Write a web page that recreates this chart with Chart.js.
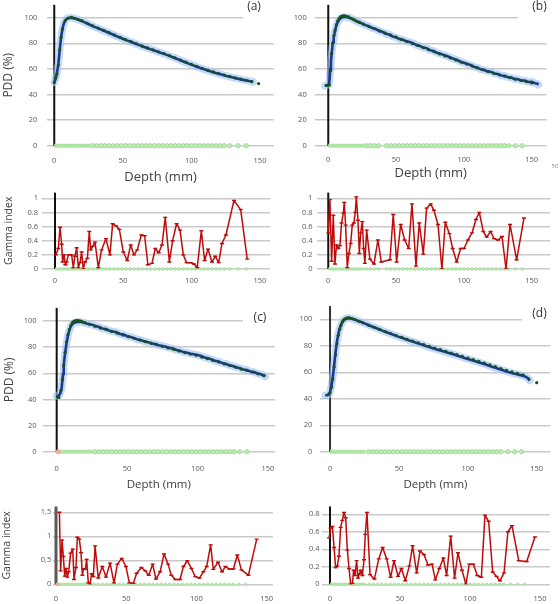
<!DOCTYPE html>
<html>
<head>
<meta charset="utf-8">
<script src="https://cdn.jsdelivr.net/npm/chart.js@4.4.0/dist/chart.umd.min.js"></script>
<style>
html, body { margin: 0; padding: 0; background: #fff; }
#fig { position: relative; width: 560px; height: 604px; overflow: hidden; }
.panel { position: absolute; }
</style>
</head>
<body>
<div id="fig"></div>
<script>
// ---- panel (a) ----
const aDepth = [0,1,2,3,4,5,6,7,8,9,10,12,14,16,18,20,23,26,29,32,35,38,41,44,47,50,53,56,59,62,65,68,71,74,77,80,83,86,89,92,95,98,101,104,107,110,113,116,119,122,125,128,131,134,137,140,143,145];
const aCalc = [49.5,52,57,64,75,85,91.5,95.5,97.8,99,99.7,100,99.6,98.9,98.2,97.4,95.9,94.4,93,91.6,90.3,89,87.6,86.2,84.8,83.5,82.2,81,79.8,78.5,77.3,76.1,75,73.9,72.8,71.7,70.5,69.3,68,66.7,65.4,64.1,62.9,61.7,60.5,59.4,58.4,57.4,56.4,55.5,54.6,53.8,53,52.3,51.6,50.9,50.3,49.8];
const aMeasDepth = [0,1,2,3,4,5,6,8,10,12.5,15,17.5,20,24,28,32,36,40,44,48,52,56,60,64,68,72,76,80,84,88,92,96,100,104,108,112,116,120,124,128,132,136,140,144,149];
const aMeas = [49.3,53,56,63,75,84.5,91,97.5,99.5,100.2,99.5,98.5,97.6,95.6,93.6,91.8,90,88.2,86.4,84.6,82.8,81.2,79.6,77.9,76.3,74.8,73.3,71.9,70.3,68.6,66.9,65.2,63.5,61.9,60.3,58.9,57.6,56.3,55.1,54,52.9,51.9,51,50.1,48.5];
const aPassBand = [0, 26];
const aPass = [28,31,34,37,40,43,46,49,52,55,58,61,64,67,70,73,76,79,82,85,88,91,94,97,100,103,106,109,112,115,118,121,124,128,134,140];
const aGammaDepth = [0.7,2.4,3.7,4.9,5.6,6.6,7.6,8.5,9.8,12.2,13.4,14.6,15.9,17.1,18.3,19.5,20.7,22,23.7,25.1,26.1,27.6,29.3,31.7,34.1,37.3,40.2,42.2,44.6,47.1,50,52.9,55.4,57.8,60.2,63.2,65.6,68,71,73.4,75.9,78.3,80.7,83.7,86.1,89,91.5,93.9,96.3,99.3,101.7,104.1,107.1,109.5,112,114.9,117.3,119.8,122.2,125.1,131,135.9,140.7];
const aGamma = [0.2,0.29,0.59,0.35,0.1,0.2,0.06,0.1,0.2,0.2,0.02,0.18,0.3,0.02,0.09,0.24,0,0.1,0.15,0.53,0.27,0.32,0.38,0.02,0.27,0.43,0.2,0.64,0.61,0.56,0.24,0.12,0.34,0.2,0.27,0.48,0.47,0.06,0.08,0.29,0.23,0.34,0.73,0.1,0.4,0.64,0.55,0.2,0.09,0.09,0.07,0.02,0.54,0.12,0.28,0.1,0.18,0.09,0.36,0.48,0.97,0.84,0.14];

// ---- panel (b) ----
const bDepth = [-2.5,-1,0,0.5,1,1.5,2,2.5,3,3.5,4,5,6,7,8,9,10,12.5,15,17.5,20,22.5,25,27.5,30,32.5,35,37.5,40,42.5,45,47.5,50,52.5,55,57.5,60,62.5,65,67.5,70,72.5,75,77.5,80,82.5,85,87.5,90,92.5,95,97.5,100,102.5,105,107.5,110,112.5,115,117.5,120,122.5,125,127.5,130,132.5,135,137.5,140,142.5,145,147.5,150,152.5,154,155];
const bCalc = [46.8,47.2,47.5,48,52,60,66,71.5,77,81,84.5,90,94,96.6,98.3,99.4,100.1,100.6,100.1,99,97.6,96.3,95.4,94.1,93.2,91.8,91.1,89.6,88.9,87.4,86.9,85.3,84.6,83.2,82.7,81.6,80.9,80.1,78.6,77.9,76.6,76.1,74.6,74,72.6,71.8,70.9,70,68.9,67.8,66.9,65.6,64.8,63.7,63,61.6,60.9,59.6,59.1,58,57.6,56.4,56,54.8,54.6,53.4,53.2,52,51.9,50.8,50.9,49.7,49.9,48.8,48.6,47.6];
const bMeasDepth = [-1.5,0,0.8,1.7,2.5,3.3,4.2,5,6,7,8,9,10,11,12,13.5,15,17,19,21,23,26,30,34,38,42,46,50,54,58,62,66,70,74,78,82,86,90,94,98,102,106,110,114,118,122,126,130,134,138,142,146,150];
const bMeas = [47,47.3,47.6,58.5,72,80,86,90,94.5,97.5,99.5,100.5,101,101.3,101.3,101,100.6,99.5,98.4,97.3,96.4,94.8,93,91.3,89.6,87.9,86.3,84.7,83,81.3,79.7,78.3,76.6,75,73.4,71.7,70.1,68.5,66.9,65.3,63.9,62.3,60.7,59.3,57.9,56.6,55.4,54.2,53.1,52,51,50,49];
const bPassBand = [0, 26];
const bPass = [28,31,34,37,43,46,49,52,55,58,61,64,67,70,73,76,79,82,85,88,91,94,97,100,103,106,109,112,115,118,121,124,127,130,133,138,143];
const bGammaDepth = [0,1.2,2.5,3.7,4.9,6.1,7.4,8.6,9.8,11.1,11.8,12.8,14,15.2,16.5,17.7,18.9,19.9,20.7,21.9,22.9,23.9,25.1,26.1,27,28.3,30.7,33.7,36.6,39.1,45.5,47.9,50.4,53.4,56.3,59.3,61.7,64.7,67.1,70.1,72.5,75.5,77.9,80.9,83.8,86.3,89.3,91.7,94.7,97.6,100.1,103,106,108.9,111.4,114.3,116.8,119.7,122.2,125.2,128.1,131.1,134,138.9,144.3];
const bGamma = [0.51,0.98,0.11,0.76,0.07,0.34,0.29,0.33,0.65,0.79,0.94,0.62,0.02,0.22,0.36,0.62,0.65,0.8,1.02,0.69,0.22,0.51,0.67,0.29,0.08,0.55,0.14,0.07,0.41,0.1,0.13,0.77,0.1,0.63,0.41,0.29,0.92,0.04,0.65,0.21,0.86,0.92,0.83,0.63,0,0.66,0.5,0.29,0.1,0.29,0.29,0.41,0.51,0.7,0.8,0.53,0.45,0.53,0.43,0.41,0.46,0,0.63,0.13,0.72];

// ---- panel (c) ----
const cDepth = [0,1,2,3,3.5,4,4.5,5,5.5,6,7,8,9,10,11,12.5,15,17.5,20,22.5,25,27.5,30,32.5,35,37.5,40,42.5,45,47.5,50,52.5,55,57.5,60,62.5,65,67.5,70,72.5,75,77.5,80,82.5,85,87.5,90,92.5,95,97.5,100,102.5,105,107.5,110,112.5,115,117.5,120,122.5,125,127.5,130,132.5,135,137.5,140,142.5,145,147.5,148];
const cCalc = [42.6,42.8,43.5,46,48.5,54,59.5,65.5,71,75.5,83,89,93,95.8,97.5,98.7,99.4,99.2,98.5,97.7,97.2,96.2,95.4,94.2,93.8,92.5,91.9,91.4,90.1,89.6,88.3,87.8,86.9,85.8,85.3,84.3,83.8,82.7,82.3,81.4,80.9,80.2,79.4,78.9,77.8,77.3,76.2,75.7,75,74.5,73.9,73.2,72.1,71.4,70.6,69.5,69,67.8,67.3,66.2,65.6,64.6,63.9,62.9,62.5,61.4,60.9,59.8,59.2,58.1,57.4];
const cMeasDepth = [0.5,1.5,3,4,5,6,7,8,9,10,11,12,13,14,15,16,17,18,20,23,27,31,35,39,43,47,51,55,59,63,67,71,75,79,83,87,91,95,99,103,107,111,115,119,123,127,131,135,139,143,147];
const cMeas = [42,41.5,47,55,66,76,84,89.5,93.5,96.5,98.5,99.5,100,100.2,100.2,100.1,99.9,99.6,98.7,97.6,96,94.7,93.4,92,90.6,89.2,88,86.8,85.5,84.2,83,81.8,80.6,79.4,78.3,77,75.8,74.7,73.7,72.4,71.1,69.8,68.6,67.1,65.9,64.6,63.2,62.1,60.9,59.6,58.2];
const cPassBand = [2.4, 25];
const cFail = [1.2];
const cPass = [27,30,33,36,39,42,45,48,51,54,57,60,63,66,69,72,75,78,81,84,87,90,93,96,99,102,105,108,111,114,117,120,123,126,130,135];
const cGammaDepth = [2.4,3.3,4.3,5.2,6.2,7.1,8.1,9,10.4,11.9,12.8,14.2,15.2,16.6,17.8,18.8,19.5,20.9,21.8,23,24.2,25.4,26.6,27.8,30.1,33,35.6,38.5,41.3,43.7,46.8,49.8,52.2,55.1,57.4,60.8,63.6,66,68.8,71.2,74.1,76.9,79.8,82.1,85,88.3,90.7,93.5,96.4,99.2,102.1,104.9,107.3,110.1,112,115.4,118.2,120.6,123.4,126.3,129.1,132,137,142.9];
const cGamma = [1.5,0.28,0.92,0.58,0.17,0.33,0.15,0.26,0.65,0.73,0.1,0.35,0.98,0.94,0.66,0.19,0.32,0.31,0.52,0.03,0,0.22,0.16,0.8,0.13,0.37,0.15,0.44,0.03,0.42,0.54,0.37,0.03,0.02,0.23,0.35,0.28,0.19,0.42,0.11,0.26,0.63,0.42,0.19,0.1,0.1,0.37,0.49,0.33,0.16,0.13,0.26,0.37,0.82,0.31,0.46,0.26,0.37,0.32,0.32,0.61,0.3,0.19,0.94];

// ---- panel (d) ----
const dDepth = [-3.5,-2,-1,0,1,2,3,4,5,6,7,8,9,10,11,12.5,14,16,18,20,22.5,25,27.5,30,32.5,35,37.5,40,42.5,45,47.5,50,52.5,55,57.5,60,62.5,65,67.5,70,72.5,75,77.5,80,82.5,85,87.5,90,92.5,95,97.5,100,102.5,105,107.5,110,112.5,115,117.5,120,122.5,125,127.5,130,132.5,135,137.5,140,142.5,144,145];
const dCalc = [42.6,42.6,43,45,49.5,56,65.5,75,83,88.8,93,96,98.2,99.5,100.3,100.8,100.9,100.4,99.7,98.9,97.9,96.9,95.9,94.7,93.8,92.6,91.6,90.5,89.6,88.6,87.7,86.7,85.8,84.9,84,83.1,82.3,81.4,80.6,79.6,78.8,78,77.2,76.4,75.7,74.9,74.1,73.3,72.5,71.7,70.8,70,69.3,68.4,67.6,66.8,66,65.1,64.1,63.3,62.5,61.7,60.8,60,59.3,58.7,58,57.3,56.3,55,53.7];
const dMeasDepth = [-1,0,1,2,3,4,5,6,7,8,9,10,11,12,13,14,16,18,21,24,28,32,36,40,44,48,52,56,60,64,68,72,76,80,84,88,92,96,100,104,108,112,116,120,124,128,132,136,140,144,150];
const dMeas = [43.5,44.5,48.5,55,64,73,81.5,88,92.5,95.5,98,99.5,100.3,100.8,101,101,100.5,99.8,98.5,97.3,95.4,93.9,92.3,90.7,89.2,87.7,86.3,84.8,83.5,82.1,80.8,79.6,78.3,77.1,75.8,74.5,73.3,72,70.7,69.5,68.2,66.9,65.6,64.2,62.8,61.5,60.2,59.1,58,55.2,52.1];
const dPassBand = [0, 25.5];
const dPass = [28,31,34,37,40,43,46,49,52,55,58,61,64,67,70,73,76,79,82,85,88,91,94,97,100,103,106,109,112,115,118,121,124,129,134,139];
const dGammaDepth = [-0.7,0.5,1.7,2.9,4,5.2,6.4,7.6,8.8,10,11.2,12.4,13.6,14.8,16,16.9,17.9,19,20,21,21.9,23.1,24.3,25.2,26.4,28.6,31.7,34.8,37.6,40.5,43.3,45.7,48.6,51,53.8,56.7,59,61.9,64.3,67.1,70,72.9,75.2,78.1,81,83.3,86.2,89,91.4,94.3,97.1,99.5,102.4,105.2,108.1,110.7,113.3,116.2,119,121.4,124.3,127.1,130,134.8,140.5,146.4];
const dGamma = [0.53,0.64,0.66,0.42,0.19,0.21,0.32,0.65,0.73,0.82,0.76,0.39,0.18,0,0.01,0.16,0.1,0.27,0.07,0.12,0.16,0.1,0.28,0.57,0.82,0.11,0.06,0.29,0.42,0.29,0.08,0.27,0.09,0.18,0.04,0.21,0.44,0.13,0.38,0.34,0.22,0.23,0.05,0.18,0.3,0.1,0.55,0.07,0.36,0.16,0,0.23,0.23,0.1,0.08,0.79,0.72,0.14,0.09,0.04,0.13,0.6,0.67,0.27,0.26,0.54];

const FONT = "'Open Sans', 'DejaVu Sans', sans-serif";
Chart.defaults.font.family = FONT;

const fig = document.getElementById('fig');

function pts(xs, ys) { return xs.map((x, i) => ({ x, y: ys[i] })); }
function onZero(xs) { return xs.map(x => ({ x, y: 0 })); }

// vertical axis line drawn at depth 0, like the Excel crossing axis
function axisAtZero(color, width) {
    return {
        id: 'axisAtZero',
        beforeDatasetsDraw(chart) {
            const { ctx, chartArea } = chart;
            const x = chart.scales.x.getPixelForValue(0);
            ctx.save();
            ctx.strokeStyle = color;
            ctx.lineWidth = width;
            ctx.beginPath();
            ctx.moveTo(x, chartArea.top);
            ctx.lineTo(x, chartArea.bottom);
            ctx.stroke();
            ctx.restore();
        }
    };
}

// panel letters, with a white box under them as in the original
function panelLabels(items, box) {
    return {
        id: 'panelLabels',
        beforeDatasetsDraw(chart) {
            const ctx = chart.ctx;
            items.forEach(it => {
                ctx.save();
                if (it.mask) {
                    ctx.fillStyle = '#fff';
                    ctx.fillRect(it.mask[0] - box.l, it.mask[1] - box.t, it.mask[2] - it.mask[0], it.mask[3] - it.mask[1]);
                }
                ctx.font = it.size + 'px ' + FONT;
                ctx.fillStyle = it.color || '#333';
                ctx.textAlign = 'center';
                ctx.textBaseline = 'middle';
                ctx.fillText(it.text, it.x - box.l, it.y - box.t);
                ctx.restore();
            });
        }
    };
}

function noPad(s) {
    s.paddingTop = 0; s.paddingBottom = 0; s.paddingLeft = 0; s.paddingRight = 0;
}

function pddSets(depth, calc, mDepth, meas, band, pass, fail) {
    const sets = [
        { data: pts(depth, calc), showLine: true, borderColor: 'rgba(165,198,242,0.65)', borderWidth: 7.5,
          borderJoinStyle: 'round', borderCapStyle: 'round', pointRadius: 0, order: 5 },
        { data: onZero(band), showLine: true, borderColor: '#aee4a5', borderWidth: 4, pointRadius: 0, clip: false, order: 4 },
        { data: onZero(pass), pointRadius: 2.2, backgroundColor: '#bdecb5', borderColor: '#9ad891', borderWidth: 0.8, clip: false, order: 4 },
        { data: pts(depth, calc), showLine: true, borderColor: '#1b3890', borderWidth: 2.6, pointRadius: 0, order: 2 },
        { data: pts(mDepth, meas), pointRadius: 1.6, backgroundColor: '#17521a', borderColor: '#17521a', borderWidth: 0, order: 1 }
    ];
    if (fail) {
        sets.push({ data: onZero(fail), pointRadius: 2.4, pointStyle: 'rect', backgroundColor: '#f2a99f', borderColor: '#f2a99f', clip: false, order: 3 });
    }
    return sets;
}

function gammaSets(gx, gy, band, pass, fail) {
    const sets = [
        { data: pts(gx, gy), showLine: true, borderColor: '#bf0a0a', borderWidth: 1.5, pointStyle: 'line',
          pointRadius: 2, pointBorderWidth: 1.4, borderJoinStyle: 'round', order: 1 },
        { data: onZero(band), showLine: true, borderColor: '#aee4a5', borderWidth: 3, pointRadius: 0, clip: false, order: 3 },
        { data: onZero(pass), pointRadius: 1.4, backgroundColor: '#bdecb5', borderColor: '#9ad891', borderWidth: 0.6, clip: false, order: 3 }
    ];
    if (fail) {
        sets.push({ data: onZero(fail), pointRadius: 1.8, pointStyle: 'rect', backgroundColor: '#f2a99f', borderColor: '#f2a99f', clip: false, order: 2 });
    }
    return sets;
}

function makePanel(p) {
    const div = document.createElement('div');
    div.className = 'panel';
    div.style.left = p.box.l + 'px';
    div.style.top = p.box.t + 'px';
    div.style.width = (p.box.r - p.box.l) + 'px';
    div.style.height = (p.box.b - p.box.t) + 'px';
    const cv = document.createElement('canvas');
    div.appendChild(cv);
    fig.appendChild(div);

    const tickFont = { family: FONT, size: 7.5 };
    new Chart(cv, {
        type: 'scatter',
        data: { datasets: p.datasets },
        options: {
            responsive: true,
            maintainAspectRatio: false,
            animation: false,
            devicePixelRatio: 1,
            layout: { padding: { left: 0, bottom: 0, top: p.area.t - p.box.t, right: p.box.r - p.area.r } },
            plugins: { legend: { display: false }, tooltip: { enabled: false } },
            scales: {
                x: {
                    type: 'linear',
                    min: p.x[0],
                    max: p.x[1],
                    afterFit: s => { s.height = p.box.b - p.area.b; noPad(s); },
                    grid: { display: false, drawTicks: false },
                    border: { display: false },
                    ticks: { stepSize: 50, includeBounds: false, padding: p.xPad, font: tickFont, color: '#595959',
                             maxRotation: 0, autoSkip: false },
                    title: p.xTitle
                        ? { display: true, text: 'Depth (mm)', color: '#404040', font: { family: FONT, size: p.xTitle }, padding: { top: 0, bottom: 0 } }
                        : { display: false }
                },
                y: {
                    type: 'linear',
                    min: 0,
                    max: p.y[1],
                    afterFit: s => { s.width = p.area.l - p.box.l; noPad(s); },
                    grid: { color: '#c9c9c9', lineWidth: 1.4, drawTicks: false },
                    border: { display: false },
                    ticks: {
                        stepSize: p.y[2],
                        includeBounds: false,
                        padding: p.yPad,
                        font: tickFont,
                        color: '#595959',
                        callback: v => {
                            const s = String(+v.toFixed(2));
                            return p.comma ? s.replace('.', ',') : s;
                        }
                    },
                    title: p.yTitle
                        ? { display: true, text: p.yTitle[0], color: '#404040', font: { family: FONT, size: p.yTitle[1] }, padding: { top: p.yTitle[2], bottom: 0 } }
                        : { display: false }
                }
            }
        },
        plugins: [axisAtZero(p.axisColor || '#111', p.axisWidth || 2), panelLabels(p.labels || [], p.box)]
    });
}

const panels = [
    { // (a) PDD
        box: { l: 0, t: 0, r: 280, b: 185 }, area: { l: 47.4, t: 3.8, r: 273.7, b: 145.7 },
        x: [-5, 160], y: [0, 110, 20], yPad: 10, xPad: 11, xTitle: 13, yTitle: ['PDD (%)', 12, 1],
        labels: [{ text: '(a)', x: 254, y: 7, size: 12, mask: [243, 0, 277, 24] }],
        datasets: pddSets(aDepth, aCalc, aMeasDepth, aMeas, aPassBand, aPass)
    },
    { // (a) gamma
        box: { l: 0, t: 186, r: 280, b: 292 }, area: { l: 42, t: 192.6, r: 270.2, b: 269 },
        x: [-9.5, 157.5], y: [0, 1.08, 0.2], yPad: 4, xPad: 7, yTitle: ['Gamma index', 10.5, 2.5],
        datasets: gammaSets(aGammaDepth, aGamma, aPassBand, aPass)
    },
    { // (b) PDD
        box: { l: 282, t: 0, r: 560, b: 181 }, area: { l: 314.7, t: 3.8, r: 546.6, b: 145.7 },
        x: [-10, 161], y: [0, 110, 20], yPad: 8, xPad: 9.5, xTitle: 13,
        labels: [{ text: '(b)', x: 539.5, y: 7, size: 12, mask: [518, 0, 558, 24] },
                 { text: '50', x: 555, y: 166, size: 6, color: '#888' }],
        datasets: pddSets(bDepth, bCalc, bMeasDepth, bMeas, bPassBand, bPass)
    },
    { // (b) gamma
        box: { l: 282, t: 186, r: 560, b: 292 }, area: { l: 316.6, t: 192.6, r: 550, b: 269 },
        x: [-8.6, 163.5], y: [0, 1.08, 0.2], yPad: 4, xPad: 7,
        datasets: gammaSets(bGammaDepth, bGamma, bPassBand, bPass)
    },
    { // (c) PDD
        box: { l: 0, t: 292, r: 280, b: 492 }, area: { l: 42.6, t: 307.9, r: 275.4, b: 451.7 },
        x: [-10, 155], y: [0, 110, 20], yPad: 6, xPad: 12.5, xTitle: 11.5, yTitle: ['PDD (%)', 12, 2],
        labels: [{ text: '(c)', x: 260, y: 318, size: 12, mask: [243, 304, 278, 332] }],
        datasets: pddSets(cDepth, cCalc, cMeasDepth, cMeas, cPassBand, cPass, cFail)
    },
    { // (d) PDD
        box: { l: 282, t: 292, r: 560, b: 492 }, area: { l: 320.4, t: 306, r: 550.5, b: 451.7 },
        x: [-7, 160], y: [0, 110, 20], yPad: 8, xPad: 12.5, xTitle: 11.5, axisColor: '#333',
        labels: [{ text: '(d)', x: 539.5, y: 314, size: 12, mask: [522, 300, 558, 328] }],
        datasets: pddSets(dDepth, dCalc, dMeasDepth, dMeas, dPassBand, dPass)
    },
    { // (c) gamma
        box: { l: 0, t: 494, r: 280, b: 604 }, area: { l: 53.2, t: 506.5, r: 273, b: 584.3 },
        x: [-2, 154.5], y: [0, 1.62, 0.5], yPad: 2, xPad: 10, comma: true, yTitle: ['Gamma index', 10.5, 0.5],
        axisColor: '#595959', axisWidth: 3,
        datasets: gammaSets(cGammaDepth, cGamma, cPassBand, cPass, cFail)
    },
    { // (d) gamma
        box: { l: 282, t: 494, r: 560, b: 604 }, area: { l: 321.6, t: 506.4, r: 549.8, b: 584.3 },
        x: [-6, 157], y: [0, 0.89, 0.2], yPad: 2, xPad: 10,
        datasets: gammaSets(dGammaDepth, dGamma, dPassBand, dPass)
    }
];

panels.forEach(makePanel);
</script>
</body>
</html>
